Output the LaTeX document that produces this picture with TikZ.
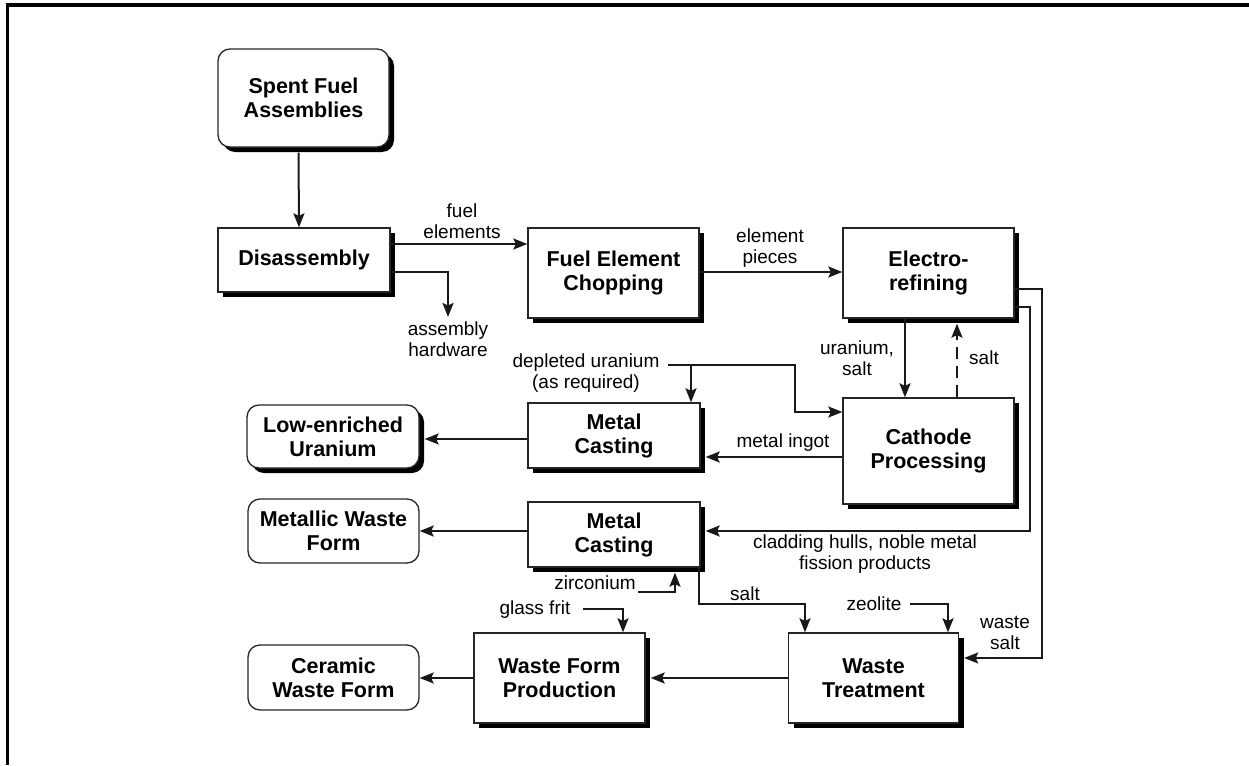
\documentclass[tikz,border=0pt]{standalone}
\usepackage{fontspec}
\setmainfont{Liberation Sans}
\usetikzlibrary{arrows.meta,shadows,calc}
\newcommand\boxtext{\fontsize{21.5}{24}\selectfont\bfseries}
\newcommand\notetext{\fontsize{19}{21}\selectfont}
\tikzset{
  unitbox/.style={draw=black!85, line width=1.3pt, fill=white, align=center,
    inner sep=0pt, font=\boxtext},
  proc/.style={unitbox, drop shadow={shadow xshift=5pt, shadow yshift=-5pt,
    opacity=1, fill=black}},
  termshadow/.style={proc, rounded corners=12pt},
  termplain/.style={unitbox, rounded corners=12pt},
  note/.style={font=\notetext, align=center, inner sep=0pt},
  flow/.style={line width=2pt, draw=black!90,
    -{Stealth[length=14pt,width=11pt,inset=2.5pt]}},
}
\begin{document}
\begin{tikzpicture}[x=1pt,y=-1pt]
\useasboundingbox (0,0) rectangle (1249,765);
% page frame (top and left rules)
\draw[line width=3.3pt] (1249,5) -- (7.7,5) -- (7.7,765);

% process boxes
\node[termshadow, minimum width=171pt, minimum height=98pt] (sfa) at (303.5,98) {Spent Fuel\\Assemblies};
\node[proc, minimum width=172pt, minimum height=64pt] (dis) at (304,260) {Disassembly};
\node[proc, minimum width=171pt, minimum height=90pt] (fec) at (613.5,273) {Fuel Element\\Chopping};
\node[proc, minimum width=171pt, minimum height=90pt] (ele) at (928.5,273) {Electro-\\refining};
\node[proc, minimum width=171pt, minimum height=106pt] (cat) at (928.5,451) {Cathode\\Processing};
\node[proc, minimum width=172pt, minimum height=65pt] (mc1) at (614,435.5) {Metal\\Casting};
\node[termshadow, minimum width=172pt, minimum height=63pt] (leu) at (333,436.5) {Low-enriched\\Uranium};
\node[proc, minimum width=172pt, minimum height=65pt] (mc2) at (614,534.5) {Metal\\Casting};
\node[termplain, minimum width=171pt, minimum height=64pt] (mwf) at (333.5,531) {Metallic Waste\\Form};
\node[proc, minimum width=170pt, minimum height=90pt] (wt) at (873.5,678) {Waste\\Treatment};
\node[proc, minimum width=171pt, minimum height=90pt] (wfp) at (559.5,678) {Waste Form\\Production};
\node[termplain, minimum width=171pt, minimum height=65pt] (cwf) at (333.5,677.5) {Ceramic\\Waste Form};

% stream labels
\node[note] (lfe) at (462,221) {fuel\\elements};
\node[note] (lep) at (770,248) {element\\pieces};
\node[note] (lah) at (448,339) {assembly\\hardware};
\node[note] (lus) at (857,358) {uranium,\\salt};
\node[note] (lsr) at (984,358) {salt};
\node[note] (ldu) at (586,373) {depleted uranium\\(as required)};
\node[note] (lmi) at (783,443) {metal ingot};
\node[note] (lcl) at (865,554) {cladding hulls, noble metal\\fission products};
\node[note] (lzr) at (595,583) {zirconium};
\node[note] (lsl) at (745,594) {salt};
\node[note] (lze) at (874,604) {zeolite};
\node[note] (lgf) at (535,610) {glass frit};
\node[note] (lws) at (1005,633) {waste\\salt};

% helper rows and bend points
\coordinate (r244) at (0,244);
\coordinate (r272) at (0,272);
\coordinate (r412) at (0,412);
\coordinate (r457) at (0,457);
\coordinate (r439) at (0,439);
\coordinate (r531) at (0,531);
\coordinate (r678) at (0,678);
\coordinate (c905) at (905,0);
\coordinate (c957) at (957,0);
\coordinate (ahw) at (448,317);
\coordinate (du0) at (668,365);
\coordinate (du1) at (795,365);
\coordinate (du2) at (691,365);
\coordinate (cl1) at (1030,307);
\coordinate (cl2) at (1030,531);
\coordinate (ws1) at (1042,289);
\coordinate (ws2) at (1042,658);
\coordinate (zr0) at (638,592);
\coordinate (zr1) at (675,592);
\coordinate (sl0) at (699,604);
\coordinate (sl1) at (805,604);
\coordinate (ze0) at (910,604);
\coordinate (ze1) at (948,604);
\coordinate (gf0) at (583,609);
\coordinate (gf1) at (623,609);

% flows
\draw[flow] ($(sfa.south)+(-5,5)$) -- ($(dis.north)+(-5,0)$);
\draw[flow] (dis.east |- r244) -- (fec.west |- r244);
\draw[flow] (dis.east |- r272) -| (ahw);
\draw[flow] (fec.east |- r272) -- (ele.west |- r272);
\draw[flow] (ele.south -| c905) -- (cat.north -| c905);
\draw[flow, dash pattern=on 12pt off 7pt] (cat.north -| c957) -- ($(ele.south -| c957)+(0,5)$);
\draw[flow] (du0) -- (du1) |- (cat.west |- r412);
\draw[flow] (du2) -- (mc1.north -| du2);
\draw[flow] (cat.west |- r457) -- ($(mc1.east |- r457)+(5,0)$);
\draw[flow] (mc1.west |- r439) -- ($(leu.east |- r439)+(5,0)$);
\draw[flow] (ele.east |- cl1) -- (cl1) -- (cl2) -- ($(mc2.east |- cl2)+(5,0)$);
\draw[flow] (ele.east |- ws1) -- (ws1) -- (ws2) -- ($(wt.east |- ws2)+(5,0)$);
\draw[flow] (mc2.west |- r531) -- (mwf.east |- r531);
\draw[flow] (zr0) -- (zr1) -- ($(mc2.south -| zr1)+(0,5)$);
\draw[flow] (mc2.south -| sl0) -- (sl0) -- (sl1) -- (wt.north -| sl1);
\draw[flow] (ze0) -- (ze1) -- (wt.north -| ze1);
\draw[flow] (gf0) -- (gf1) -- (wfp.north -| gf1);
\draw[flow] (wt.west |- r678) -- ($(wfp.east |- r678)+(5,0)$);
\draw[flow] (wfp.west |- r678) -- (cwf.east |- r678);
\end{tikzpicture}
\end{document}
